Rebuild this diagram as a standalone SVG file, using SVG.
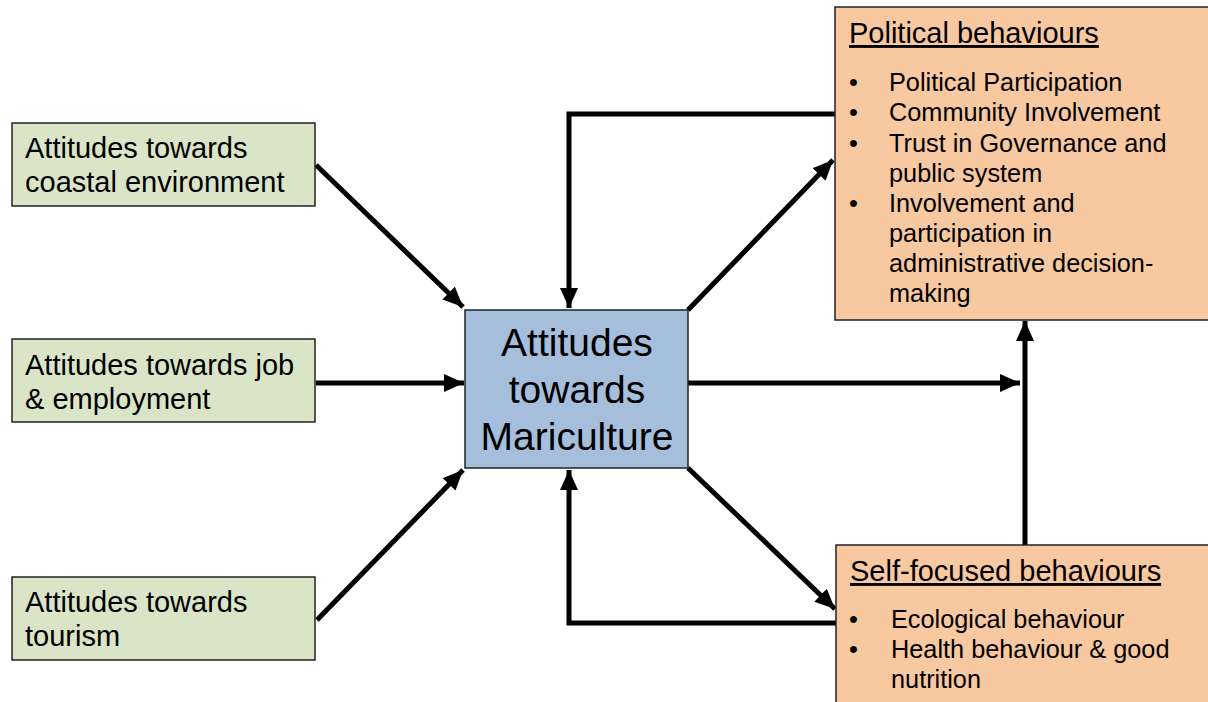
<svg xmlns="http://www.w3.org/2000/svg" width="1208" height="702" viewBox="0 0 1208 702">
<style>
.box{stroke:#222;stroke-width:1.5}
.green{fill:#dae5c8}
.blue{fill:#a5bedc}
.orange{fill:#f8c8a0}
text{font-family:"Liberation Sans",Arial,sans-serif;fill:#000}
.t28{font-size:29px}
.t25{font-size:25.3px}
.big{font-size:39px}
.ul{text-decoration:underline}
.conn{fill:none;stroke:#000;stroke-width:5}
</style>
<defs>
<marker id="ah" markerUnits="userSpaceOnUse" markerWidth="22" markerHeight="18" refX="20" refY="9" orient="auto">
<path d="M0,0 L20,9 L0,18 Z" fill="#000"/>
</marker>
</defs>
<rect width="1208" height="702" fill="#fff"/>
<g id="connectors">
<line class="conn" x1="316" y1="165" x2="463" y2="307" marker-end="url(#ah)"/>
<line class="conn" x1="316" y1="383" x2="464" y2="383" marker-end="url(#ah)"/>
<line class="conn" x1="317" y1="620" x2="463" y2="470" marker-end="url(#ah)"/>
<polyline class="conn" points="835,114 569,114 569,308" marker-end="url(#ah)"/>
<line class="conn" x1="688" y1="310" x2="833" y2="160" marker-end="url(#ah)"/>
<line class="conn" x1="688" y1="383" x2="1020" y2="383" marker-end="url(#ah)"/>
<line class="conn" x1="1025" y1="545" x2="1025" y2="321" marker-end="url(#ah)"/>
<line class="conn" x1="688" y1="468" x2="835" y2="609" marker-end="url(#ah)"/>
<polyline class="conn" points="836,623 569,623 569,470" marker-end="url(#ah)"/>
</g>
<g id="node-coastal">
<rect class="box green" x="12" y="123" width="303" height="83"/>
<text class="t28" x="25" y="158">Attitudes towards</text>
<text class="t28" x="25" y="192">coastal environment</text>
</g>
<g id="node-job">
<rect class="box green" x="12" y="339" width="303" height="83"/>
<text class="t28" x="25" y="375">Attitudes towards job</text>
<text class="t28" x="25" y="409">&amp; employment</text>
</g>
<g id="node-tourism">
<rect class="box green" x="12" y="577" width="303" height="83"/>
<text class="t28" x="25" y="612">Attitudes towards</text>
<text class="t28" x="25" y="646">tourism</text>
</g>
<g id="node-mariculture">
<rect class="box blue" x="465" y="310" width="223" height="158"/>
<text class="big" x="577" y="356" text-anchor="middle">Attitudes</text>
<text class="big" x="577" y="403" text-anchor="middle">towards</text>
<text class="big" x="577" y="450" text-anchor="middle">Mariculture</text>
</g>
<g id="node-political">
<rect class="box orange" x="835" y="7" width="380" height="313"/>
<text class="t28 ul" x="849" y="43">Political behaviours</text>
<g class="t25">
<text x="849" y="91">•</text>
<text x="889" y="91">Political Participation</text>
<text x="849" y="121">•</text>
<text x="889" y="121">Community Involvement</text>
<text x="849" y="152">•</text>
<text x="889" y="152">Trust in Governance and</text>
<text x="889" y="182">public system</text>
<text x="849" y="212">•</text>
<text x="889" y="212">Involvement and</text>
<text x="889" y="242">participation in</text>
<text x="889" y="272">administrative decision-</text>
<text x="889" y="302">making</text>
</g>
</g>
<g id="node-self">
<rect class="box orange" x="836" y="545" width="380" height="170"/>
<text class="t28 ul" x="850" y="581">Self-focused behaviours</text>
<g class="t25">
<text x="849" y="628">•</text>
<text x="891" y="628">Ecological behaviour</text>
<text x="849" y="658">•</text>
<text x="891" y="658">Health behaviour &amp; good</text>
<text x="891" y="688">nutrition</text>
</g>
</g>
</svg>
